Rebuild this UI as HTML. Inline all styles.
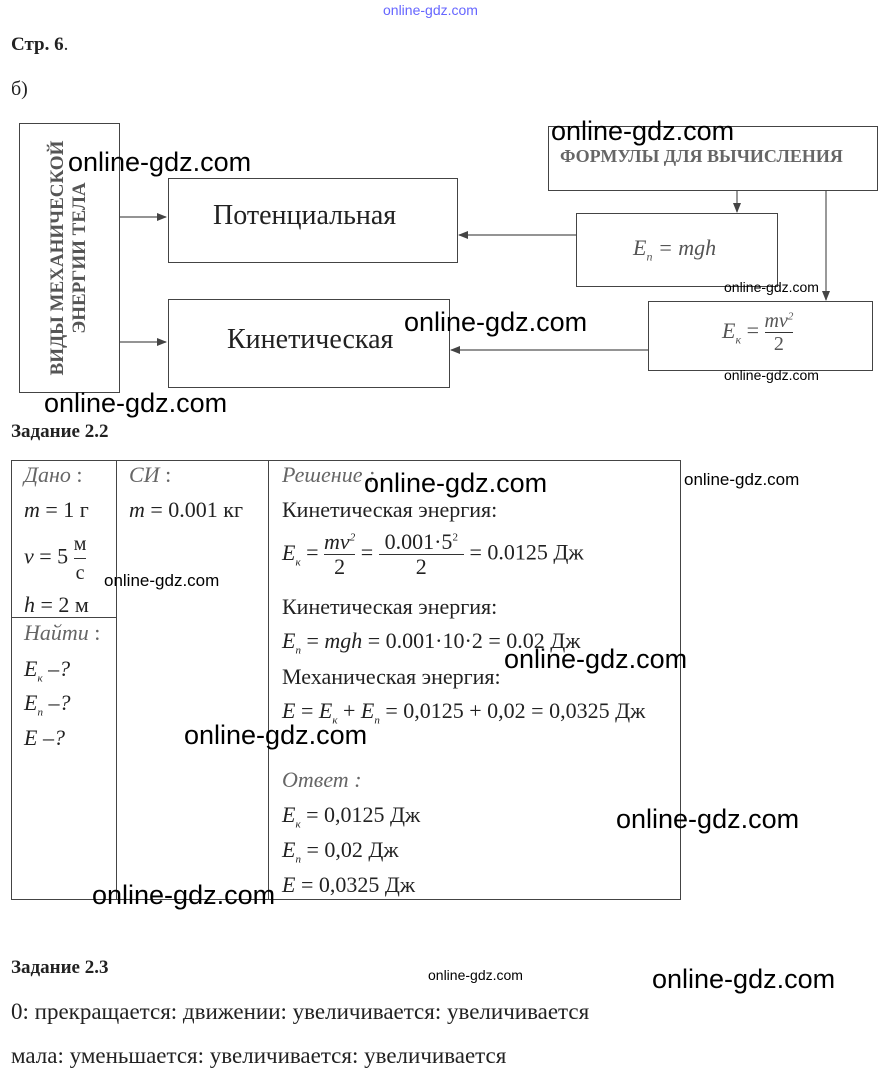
<!DOCTYPE html>
<html><head><meta charset="utf-8"><style>
body{margin:0;width:887px;height:1086px;background:#fff;position:relative;overflow:hidden;font-family:"Liberation Serif",serif;color:#222}
.a{position:absolute;white-space:nowrap}
.b{position:absolute;border:1.5px solid #444;box-sizing:border-box}
.w{position:absolute;font-family:"Liberation Sans",sans-serif;color:#000;font-size:27px;white-space:nowrap}
.ws{position:absolute;font-family:"Liberation Sans",sans-serif;color:#000;font-size:14px;white-space:nowrap}
.i{font-style:italic}
.t{font-size:22px}
.fr{display:inline-block;vertical-align:middle;text-align:center}
.fr span{display:block;line-height:1.1}
.fr .n{border-bottom:1px solid #333}
</style></head><body>
<div class="a" style="left:383px;top:2px;font-family:'Liberation Sans',sans-serif;font-size:14px;color:#66f">online-gdz.com</div>
<div class="a" style="left:11px;top:34px;font-size:19px;font-weight:bold">Стр. 6<span style="font-weight:normal">.</span></div>
<div class="a" style="left:11px;top:78px;font-size:20px">б)</div>

<div class="b" style="left:19px;top:123px;width:101px;height:270px"></div>
<div class="a" style="left:69px;top:258px;transform:translate(-50%,-50%) rotate(-90deg);font-size:19px;font-weight:bold;color:#555;text-align:center;line-height:22px">ВИДЫ МЕХАНИЧЕСКОЙ<br>ЭНЕРГИИ ТЕЛА</div>
<div class="b" style="left:168px;top:178px;width:290px;height:85px"></div>
<div class="a" style="left:213px;top:200px;font-size:28px">Потенциальная</div>
<div class="b" style="left:168px;top:299px;width:282px;height:89px"></div>
<div class="a" style="left:227px;top:324px;font-size:28px">Кинетическая</div>
<div class="b" style="left:548px;top:126px;width:330px;height:65px"></div>
<div class="a" style="left:560px;top:146px;font-size:18px;font-weight:bold;color:#666">ФОРМУЛЫ ДЛЯ ВЫЧИСЛЕНИЯ</div>
<div class="b" style="left:576px;top:213px;width:202px;height:74px"></div>
<div class="a i" style="left:633px;top:235px;font-size:22px;color:#555">E<sub style="font-size:12px">п</sub> = mgh</div>
<div class="b" style="left:648px;top:301px;width:225px;height:70px"></div>
<div class="a" style="left:722px;top:310px;font-size:22px;color:#555"><span class="i">E<sub style="font-size:12px">к</sub></span> = <span class="fr" style="font-size:20px"><span class="n i">mv<sup style="font-size:11px">2</sup></span><span>2</span></span></div>

<svg class="a" style="left:0;top:0" width="887" height="420">
<defs><marker id="m" markerWidth="10" markerHeight="8" refX="9" refY="4" orient="auto" markerUnits="userSpaceOnUse"><path d="M0,0 L10,4 L0,8 Z" fill="#444"/></marker></defs>
<g stroke="#555" stroke-width="1.2" fill="none">
<line x1="120" y1="217" x2="166" y2="217" marker-end="url(#m)"/>
<line x1="120" y1="342" x2="166" y2="342" marker-end="url(#m)"/>
<line x1="576" y1="235" x2="459" y2="235" marker-end="url(#m)"/>
<line x1="648" y1="350" x2="451" y2="350" marker-end="url(#m)"/>
<line x1="737" y1="191" x2="737" y2="212" marker-end="url(#m)"/>
<line x1="826" y1="191" x2="826" y2="300" marker-end="url(#m)"/>
</g></svg>

<div class="w" style="left:68px;top:147px">online-gdz.com</div>
<div class="w" style="left:551px;top:116px">online-gdz.com</div>
<div class="w" style="left:404px;top:307px">online-gdz.com</div>
<div class="w" style="left:44px;top:388px">online-gdz.com</div>
<div class="ws" style="left:724px;top:279px">online-gdz.com</div>
<div class="ws" style="left:724px;top:367px">online-gdz.com</div>

<div class="a" style="left:11px;top:421px;font-size:19px;font-weight:bold">Задание 2.2</div>
<div class="b" style="left:11px;top:460px;width:670px;height:440px;border-width:1px"></div>
<div class="a" style="left:116px;top:460px;width:1px;height:440px;background:#444"></div>
<div class="a" style="left:268px;top:460px;width:1px;height:440px;background:#444"></div>
<div class="a" style="left:11px;top:617px;width:105px;height:1px;background:#444"></div>
<div class="a t" style="left:24px;top:462px;color:#666"><span class="i">Дано</span> :</div>
<div class="a t" style="left:24px;top:497px"><span class="i">m</span> = 1 г</div>
<div class="a t" style="left:24px;top:530px"><span class="i">v</span> = 5 <span class="fr" style="font-size:20px"><span class="n" style="line-height:1.4">м</span><span style="line-height:1.4">с</span></span></div>
<div class="a t" style="left:24px;top:592px"><span class="i">h</span> = 2 м</div>
<div class="a t" style="left:24px;top:620px;color:#666"><span class="i">Найти</span> :</div>
<div class="a t i" style="left:24px;top:656px">E<sub style="font-size:11px">к</sub> –?</div>
<div class="a t i" style="left:24px;top:690px">E<sub style="font-size:11px">п</sub> –?</div>
<div class="a t i" style="left:24px;top:725px">E –?</div>
<div class="a t" style="left:129px;top:462px;color:#666"><span class="i">СИ</span> :</div>
<div class="a t" style="left:129px;top:497px"><span class="i">m</span> = 0.001 кг</div>
<div class="a t i" style="left:282px;top:462px;color:#666">Решение :</div>
<div class="a t" style="left:282px;top:497px">Кинетическая энергия:</div>
<div class="a t" style="left:282px;top:530px"><span class="i">E<sub style="font-size:11px">к</sub></span> = <span class="fr"><span class="n i">mv<sup style="font-size:11px">2</sup></span><span>2</span></span> = <span class="fr"><span class="n" style="padding:0 6px">0.001·5<sup style="font-size:11px">2</sup></span><span>2</span></span> = 0.0125 Дж</div>
<div class="a t" style="left:282px;top:594px">Кинетическая энергия:</div>
<div class="a t" style="left:282px;top:628px"><span class="i">E<sub style="font-size:11px">п</sub></span> = <span class="i">mgh</span> = 0.001·10·2 = 0.02 Дж</div>
<div class="a t" style="left:282px;top:664px">Механическая энергия:</div>
<div class="a t" style="left:282px;top:698px"><span class="i">E</span> = <span class="i">E<sub style="font-size:11px">к</sub></span> + <span class="i">E<sub style="font-size:11px">п</sub></span> = 0,0125 + 0,02 = 0,0325 Дж</div>
<div class="a t i" style="left:282px;top:767px;color:#666">Ответ :</div>
<div class="a t" style="left:282px;top:802px"><span class="i">E<sub style="font-size:11px">к</sub></span> = 0,0125 Дж</div>
<div class="a t" style="left:282px;top:837px"><span class="i">E<sub style="font-size:11px">п</sub></span> = 0,02 Дж</div>
<div class="a t" style="left:282px;top:872px"><span class="i">E</span> = 0,0325 Дж</div>

<div class="w" style="left:364px;top:468px">online-gdz.com</div>
<div class="ws" style="left:684px;top:470px;font-size:17px">online-gdz.com</div>
<div class="ws" style="left:104px;top:571px;font-size:17px">online-gdz.com</div>
<div class="w" style="left:504px;top:644px">online-gdz.com</div>
<div class="w" style="left:184px;top:720px">online-gdz.com</div>
<div class="w" style="left:616px;top:804px">online-gdz.com</div>
<div class="w" style="left:92px;top:880px">online-gdz.com</div>

<div class="a" style="left:11px;top:957px;font-size:19px;font-weight:bold">Задание 2.3</div>
<div class="ws" style="left:428px;top:967px">online-gdz.com</div>
<div class="w" style="left:652px;top:964px">online-gdz.com</div>
<div class="a" style="left:11px;top:999px;font-size:23px">0: прекращается: движении: увеличивается: увеличивается</div>
<div class="a" style="left:11px;top:1043px;font-size:23px">мала: уменьшается: увеличивается: увеличивается</div>
</body></html>
